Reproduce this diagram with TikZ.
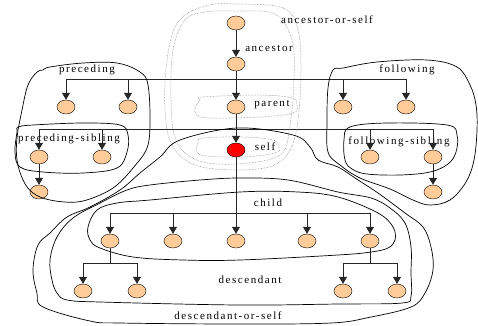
\documentclass[tikz,border=0pt]{standalone}
\usepackage{fontspec}
\setmainfont{Liberation Serif}[LetterSpace=14]
\usetikzlibrary{shapes.geometric,arrows.meta}
\definecolor{peach}{RGB}{255,204,153}
\tikzset{
  nd/.style={ellipse, draw=black, fill=peach, minimum width=18pt, minimum height=14pt, inner sep=0pt},
  arr/.style={-{Triangle[width=8pt,length=7pt]}, black!85, line width=0.8pt},
  ln/.style={black!85, line width=0.8pt},
  lbl/.style={font=\fontsize{11}{12}\selectfont, inner sep=0pt},
  blob/.style={black, line width=0.7pt},
  dots/.style={black!55, densely dotted, line width=0.5pt}
}
\begin{document}
\begin{tikzpicture}[x=1pt, y=-1pt]
    \useasboundingbox (0,0) rectangle (478,325);

    % axis nodes
    \node[nd] (root) at (236,23) {};
    \node[nd] (anc) at (236,64) {};
    \node[nd] (par) at (236,107) {};
    \node[nd, fill=red] (slf) at (236,150) {};

    \node[nd] (pre1) at (66,107) {};
    \node[nd] (pre2) at (128,107) {};
    \node[nd] (fol1) at (343,107) {};
    \node[nd] (fol2) at (406,107) {};

    \node[nd] (ps1) at (39,157) {};
    \node[nd] (ps2) at (102,157) {};
    \node[nd] (fs1) at (370,157) {};
    \node[nd] (fs2) at (433,157) {};
    \node[nd] (ps1c) at (39,192) {};
    \node[nd] (fs2c) at (433,192) {};

    \node[nd] (ch1) at (110,241) {};
    \node[nd] (ch2) at (173,241) {};
    \node[nd] (ch3) at (236,241) {};
    \node[nd] (ch4) at (307,241) {};
    \node[nd] (ch5) at (370,241) {};

    \node[nd] (d1) at (83,291) {};
    \node[nd] (d2) at (137,291) {};
    \node[nd] (d3) at (343,291) {};
    \node[nd] (d4) at (397,291) {};

    \coordinate (pf) at (236,79);
    \coordinate (sb) at (236,129);
    \coordinate (cb) at (236,213);
    \coordinate (db) at (236,263);

    % labels
    \node[lbl] (lAos) at (327,20) {ancestor-or-self};
    \node[lbl] (lAnc) at (269,48) {ancestor};
    \node[lbl] (lPar) at (272,105) {parent};
    \node[lbl] (lSlf) at (265,147) {self};
    \node[lbl] (lPre) at (87,70) {preceding};
    \node[lbl] (lFol) at (407,70) {following};
    \node[lbl] (lPs) at (69,139) {preceding-sibling};
    \node[lbl] (lFs) at (399,142) {following-sibling};
    \node[lbl] (lCh) at (268,203) {child};
    \node[lbl] (lDes) at (250,280) {descendant};
    \node[lbl] (lDos) at (228,316) {descendant-or-self};

    % connectors
    \draw[arr] (root) -- (anc);
    \draw[arr] (anc) -- (par);
    \draw[arr] (par) -- (slf);
    \draw[arr] (slf) -- (ch3);

    \draw[ln] (pre1 |- pf) -- (fol2 |- pf);
    \foreach \n in {pre1,pre2,fol1,fol2}
        \draw[arr] (\n |- pf) -- (\n);
    \draw[ln] (ps1 |- sb) -- (fs2 |- sb);
    \foreach \n in {ps1,ps2,fs1,fs2}
        \draw[arr] (\n |- sb) -- (\n);
    \draw[arr] (ps1) -- (ps1c);
    \draw[arr] (fs2) -- (fs2c);

    \draw[ln] (ch1 |- cb) -- (ch5 |- cb);
    \foreach \n in {ch1,ch2,ch4,ch5}
        \draw[arr] (\n |- cb) -- (\n);

    \draw[ln] (ch1) -- (ch1 |- db);
    \draw[ln] (d1 |- db) -- (d2 |- db);
    \draw[ln] (ch5) -- (ch5 |- db);
    \draw[ln] (d3 |- db) -- (d4 |- db);
    \foreach \n in {d1,d2,d3,d4}
        \draw[arr] (\n |- db) -- (\n);

    % dotted regions
    \draw[dots] plot[smooth cycle, tension=0.6] coordinates {(236,4) (283,8) (298,30) (301,70) (298,120) (290,150) (272,166) (236,170) (195,165) (172,145) (165,110) (167,60) (178,22) (205,6)};
    \draw[dots] plot[smooth cycle, tension=0.6] coordinates {(236,11) (275,14) (292,40) (294,80) (290,125) (280,155) (236,164) (197,160) (176,140) (171,100) (173,50) (185,20) (205,12)};
    \draw[dots] plot[smooth cycle, tension=0.6] coordinates {(203,97) (260,95) (292,98) (297,105) (293,113) (260,117) (210,118) (197,115) (195,108) (200,100)};
    \draw[dots] plot[smooth cycle, tension=0.6] coordinates {(203,138) (243,137) (273,140) (279,147) (275,153) (243,157) (207,156) (197,152) (198,143)};

    % solid regions
    \draw[blob] plot[smooth cycle, tension=0.6] coordinates {(43,70) (50,67) (83,63) (117,63) (140,72) (148,85) (150,122) (147,148) (133,168) (117,185) (100,195) (77,202) (50,200) (33,193) (23,180) (17,160) (17,138) (22,110) (28,85) (37,72)};
    \draw[blob] plot[smooth cycle, tension=0.6] coordinates {(18,127) (33,125) (83,123) (120,125) (128,135) (127,152) (117,168) (83,173) (43,172) (20,167) (15,152) (17,132)};
    \draw[blob] plot[smooth cycle, tension=0.6] coordinates {(333,70) (343,68) (377,62) (427,60) (457,67) (470,85) (476,105) (477,130) (474,160) (466,182) (450,200) (430,205) (413,200) (390,189) (360,178) (340,165) (328,152) (327,122) (328,88)};
    \draw[blob] plot[smooth cycle, tension=0.6] coordinates {(350,127) (387,123) (447,125) (457,135) (456,152) (448,164) (430,172) (400,175) (367,174) (352,169) (345,160) (344,140)};
    \draw[blob] plot[smooth cycle, tension=0.6] coordinates {(237,128) (293,135) (310,147) (318,160) (338,167) (358,180) (378,193) (405,213) (423,227) (431,247) (433,270) (425,293) (411,307) (371,317) (331,323) (238,324) (120,323) (90,321) (43,307) (37,293) (33,270) (38,245) (50,233) (67,217) (90,207) (120,190) (140,173) (160,157) (180,140)};
    \draw[blob] plot[smooth cycle, tension=0.6] coordinates {(240,178) (288,180) (338,192) (371,198) (390,208) (405,223) (411,247) (411,273) (411,296) (402,303) (338,304) (238,305) (100,302) (67,300) (57,293) (52,280) (50,260) (57,237) (73,218) (100,203) (127,190) (150,185) (200,180)};
    \draw[blob] plot[smooth cycle, tension=0.6] coordinates {(240,192) (298,192) (338,197) (378,213) (393,227) (395,240) (388,248) (371,252) (338,255) (240,260) (183,260) (133,257) (100,248) (90,240) (88,227) (97,210) (117,203) (150,200)};
\end{tikzpicture}
\end{document}
